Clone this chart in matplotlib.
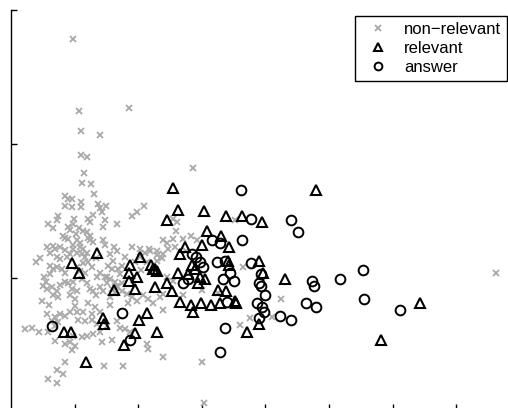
import matplotlib
matplotlib.use("Agg")
import matplotlib.pyplot as plt

plt.rcParams['font.family'] = ['Liberation Sans', 'DejaVu Sans']

# non-relevant points
nonrel_x = [0.97, 1.07, 1.86, 1.10, 1.40, 1.10, 1.19, 1.15, 1.12, 1.26, 1.30, 2.86, 0.85, 0.90, 0.96, 1.10, 1.37, 1.49, 2.09, 0.85, 0.96, 1.10, 1.40,
            1.98, 1.90, 1.29, 1.43, 1.48, 1.45, 1.67, 0.74, 0.72, 0.99, 0.97, 1.21, 1.24, 0.58, 0.66, 0.90, 0.93, 1.07, 1.13, 1.19, 1.24, 1.02, 0.82, 0.85, 0.90, 2.55, 2.61, 3.52,
            1.21, 1.24, 1.29, 1.45, 1.48, 1.04, 1.08, 0.57, 0.66, 0.77, 0.85, 0.97, 1.08, 1.04, 1.12, 1.16, 0.93, 0.88, 0.72, 0.77, 0.61, 0.69, 0.97, 1.13, 1.19, 1.56, 1.67, 1.90, 2.03, 2.17, 2.30, 2.39, 2.45, 2.55, 2.70, 2.83, 2.92, 2.47, 2.58, 2.11, 2.19, 2.30, 2.39, 2.03, 2.14, 2.30, 2.37,
            0.61, 0.66, 0.61, 0.72, 0.80, 0.85, 1.04, 1.08, 1.16, 1.13, 1.53, 1.59, 1.68, 1.75, 1.21, 1.27, 1.40, 1.48, 1.35, 1.51, 1.56, 1.64, 1.75, 1.67, 0.50, 0.57, 0.64, 0.72, 0.66, 0.74, 0.90, 0.96, 1.04, 0.93, 1.12, 1.19, 1.24, 1.29, 1.40, 1.45, 1.51, 1.59, 1.67, 1.64, 1.56, 1.75, 1.82, 1.90, 1.98, 2.15, 2.23, 2.34, 2.45, 2.55, 2.08, 2.39, 2.70, 3.00, 3.25, 3.65, 0.85, 0.97, 1.34, 0.77,
            1.84, 2.39, 1.21, 1.32, 1.40, 1.27, 1.13, 1.01, 1.04, 0.93, 0.85, 0.77, 0.69, 0.57, 0.64, 0.74, 0.69, 1.05, 1.16, 1.27, 1.35, 1.51, 1.67, 1.71, 1.79, 1.87, 1.40, 1.29, 1.19, 1.12, 0.97, 0.22, 0.33, 0.44, 0.58, 4.10, 4.25, 3.76, 3.60,
            0.93, 1.01, 0.96, 0.69, 0.85, 1.43, 1.59, 2.14, 2.15, 2.39, 0.85, 1.46, 1.76, 0.72, 0.82, 0.58, 0.72, 3.00, 3.03, 7.63,
            0.45, 0.52, 0.60, 0.55, 1.60, 1.72, 1.80, 1.95, 2.05, 1.00, 0.40, 0.48, 1.33, 1.55, 1.62, 2.60, 2.75]
nonrel_y = [2.78, 2.25, 2.27, 2.10, 2.07, 1.92, 1.90, 1.78, 1.71, 1.70, 1.63, 1.82, 1.61, 1.59, 1.59, 1.57, 1.55, 1.54, 1.54, 1.54, 1.53, 1.53, 1.52,
            1.49, 1.46, 1.47, 1.49, 1.43, 1.38, 1.40, 1.46, 1.43, 1.44, 1.40, 1.44, 1.42, 1.40, 1.37, 1.38, 1.36, 1.37, 1.35, 1.34, 1.31, 1.33, 1.31, 1.30, 1.29, 1.44, 1.42, 1.43,
            1.30, 1.28, 1.27, 1.28, 1.25, 1.28, 1.26, 1.23, 1.24, 1.23, 1.21, 1.22, 1.23, 1.19, 1.18, 1.16, 1.18, 1.16, 1.16, 1.14, 1.19, 1.22, 1.25, 1.22, 1.19, 1.18, 1.20, 1.23, 1.22, 1.22, 1.20, 1.28, 1.26, 1.29, 1.29, 1.31, 1.28, 1.22, 1.23, 1.19, 1.20, 1.17, 1.18, 1.16, 1.12, 1.13, 1.15,
            1.09, 1.07, 1.03, 1.08, 1.07, 1.04, 1.08, 1.05, 1.04, 1.11, 1.09, 1.07, 1.07, 1.09, 1.12, 1.08, 1.04, 1.01, 1.01, 1.01, 0.99, 0.97, 0.96, 0.93, 0.94, 0.92, 0.93, 0.90, 0.87, 0.86, 0.96, 0.92, 0.90, 0.87, 0.99, 0.96, 0.92, 0.90, 0.93, 0.90, 0.96, 0.92, 0.94, 0.89, 0.86, 0.90, 0.88, 0.86, 0.83, 0.84, 0.81, 0.86, 1.01, 0.98, 0.87, 0.88, 0.87, 0.91, 0.89, 1.08, 0.97, 0.97, 0.87, 0.95,
            0.81, 0.76, 0.81, 0.78, 0.75, 0.73, 0.75, 0.79, 0.75, 0.75, 0.72, 0.73, 0.71, 0.73, 0.68, 0.67, 0.64, 0.69, 0.68, 0.69, 0.66, 0.64, 0.68, 0.63, 0.62, 0.60, 0.60, 0.58, 0.57, 0.56, 0.57, 0.62, 0.63, 0.60, 0.60, 0.71, 0.84, 0.70, 0.65,
            0.52, 0.49, 0.46, 0.53, 0.51, 0.52, 0.54, 0.51, 0.47, 0.41, 0.37, 0.34, 0.34, 0.31, 0.28, 0.25, 0.22, 0.37, 0.07, 1.04,
            1.15, 1.01, 0.80, 0.97, 1.13, 1.03, 1.16, 1.12, 1.06, 0.84, 1.12, 0.83, 1.15, 0.80, 1.23, 1.35, 1.20]

# relevant points
rel_x = [2.55, 4.80, 2.63, 3.03, 3.38, 3.63, 2.45, 3.95, 3.08, 3.30, 3.00, 3.43, 2.74, 2.66, 1.35, 0.96, 1.07, 2.03, 1.87, 2.20,
         2.23, 2.26, 2.30, 2.85, 2.89, 1.86, 1.98, 2.63, 2.78, 2.97, 3.05, 1.86, 2.45, 2.94, 1.62, 1.95, 2.26, 2.53, 3.41, 3.43,
         3.90, 3.96, 4.31, 3.25, 3.38, 2.66, 2.83, 2.99, 3.14, 3.29, 3.52, 3.54, 2.86, 2.14, 2.01, 1.45, 1.46, 0.83, 0.94, 1.95,
         2.30, 1.78, 1.18, 3.71, 3.90, 6.43, 5.82]
rel_y = [1.67, 1.66, 1.51, 1.50, 1.46, 1.46, 1.43, 1.42, 1.35, 1.31, 1.25, 1.23, 1.23, 1.18, 1.19, 1.11, 1.04, 1.16, 1.10, 1.10,
         1.07, 1.07, 1.05, 1.10, 1.07, 1.04, 1.01, 1.04, 1.03, 1.01, 0.99, 0.98, 0.96, 0.96, 0.91, 0.92, 0.93, 0.90, 1.13, 1.10,
         1.13, 1.04, 0.99, 0.91, 0.90, 0.82, 0.80, 0.81, 0.80, 0.81, 0.83, 0.81, 0.75, 0.74, 0.69, 0.70, 0.66, 0.60, 0.60, 0.59,
         0.60, 0.50, 0.37, 0.60, 0.66, 0.81, 0.54]

# answer points
ans_x = [3.62, 4.40, 4.51, 3.77, 3.63, 3.16, 3.29, 2.85, 2.91, 2.97, 3.02, 3.24, 3.36, 3.77, 3.93, 3.44, 3.33, 3.51, 2.70, 2.78,
         3.90, 3.93, 3.99, 3.87, 3.95, 3.98, 3.90, 4.23, 4.40, 4.64, 4.80, 4.73, 4.76, 5.17, 5.53, 5.55, 6.12, 3.40, 1.75, 1.87,
         3.36, 3.29, 0.64]
ans_y = [1.66, 1.43, 1.34, 1.44, 1.28, 1.28, 1.26, 1.18, 1.16, 1.12, 1.08, 1.12, 1.13, 1.11, 1.03, 1.04, 0.99, 0.98, 0.96, 0.99,
         0.96, 0.94, 0.87, 0.81, 0.78, 0.75, 0.70, 0.72, 0.69, 0.81, 0.78, 0.98, 0.94, 0.99, 1.06, 0.84, 0.76, 0.82, 0.74, 0.54,
         0.63, 0.45, 0.64]

labels = ['non\u2212relevant', 'relevant', 'answer']
x_ticks = [1, 2, 3, 4, 5, 6, 7]
y_ticks = [1, 2, 3]

W, H = 508, 408
fig = plt.figure(figsize=(W / 100, H / 100), dpi=100)
ax = fig.add_axes([11 / W, 1 - 409.5 / H, 497 / W, 399.5 / H])

gray = '#a9a9a9'
ax.plot(nonrel_x, nonrel_y, linestyle='none', marker='x', ms=4.8, mew=1.3, color=gray, label=labels[0])
ax.plot(rel_x, rel_y, linestyle='none', marker='^', ms=7.5, mew=1.5, mfc='none', mec='black', label=labels[1])
ax.plot(ans_x, ans_y, linestyle='none', marker='o', ms=7, mew=1.4, mfc='none', mec='black', label=labels[2])

ax.set_xlim(0, 497 / 63.6)
ax.set_ylim((412 - 409.5) / 134, 3.0)
ax.set_xticks(x_ticks)
ax.set_yticks(y_ticks)
ax.tick_params(direction='in', length=4, width=1.0, labelbottom=False, labelleft=False)
for s in ['top', 'right', 'bottom']:
    ax.spines[s].set_visible(False)
ax.spines['left'].set_linewidth(1.0)

leg = ax.legend(loc='upper right', bbox_to_anchor=(0.998, 0.985), borderaxespad=0,
                fancybox=False, framealpha=1, edgecolor='black', fontsize=12,
                labelspacing=0.25, handlelength=2.06, handletextpad=0.53, borderpad=0.35,
                markerscale=0.8)
leg.get_frame().set_linewidth(1.0)

fig.savefig('out.png', dpi=100)
